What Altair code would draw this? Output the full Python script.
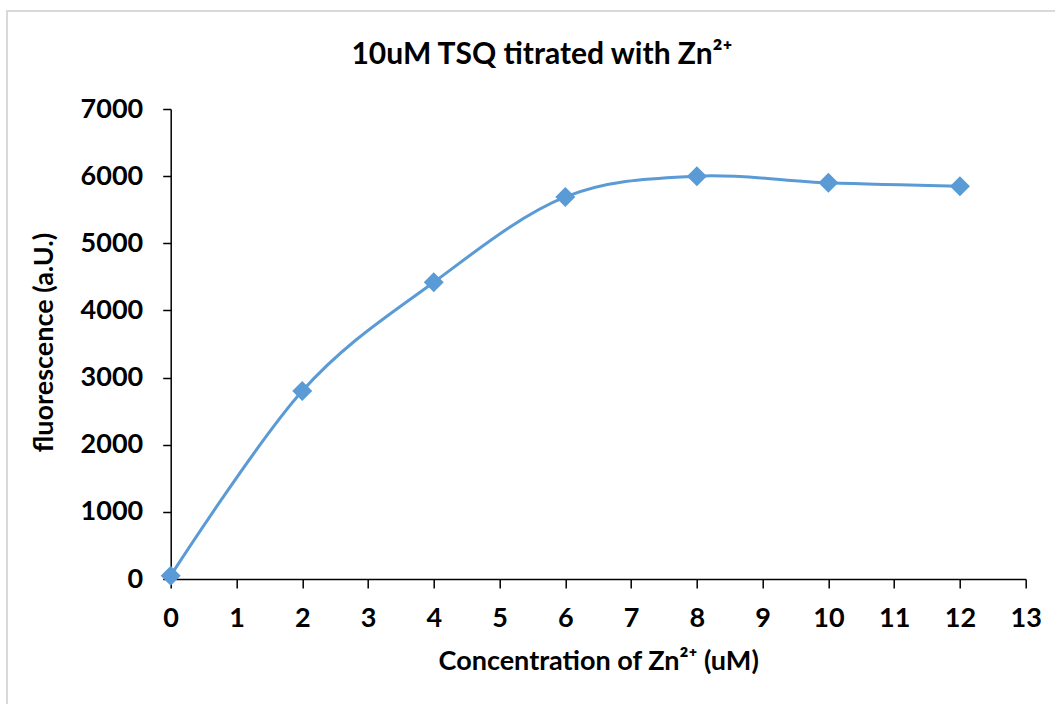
import altair as alt
import pandas as pd

# Zn2+ concentration (uM) and measured TSQ fluorescence (a.U.)
concentration = [0, 2, 4, 6, 8, 10, 12]
fluorescence = [50, 2800, 4420, 5690, 6000, 5900, 5850]

x_ticks = list(range(0, 14))
y_ticks = list(range(0, 7001, 1000))

chart_title = "10uM TSQ titrated with Zn²⁺"

df = pd.DataFrame({"conc": concentration, "fluor": fluorescence})
title_df = pd.DataFrame({"t": [chart_title]})

FONT = "Lato"
FS = 27
BLUE = "#5B9BD5"
PLOT_W, PLOT_H = 855, 470
LEFT, TOP = 170.7, 109

x_enc = alt.X(
    "conc:Q",
    scale=alt.Scale(domain=[0, 13], nice=False, zero=False),
    axis=alt.Axis(
        values=x_ticks,
        format="d",
        title="Concentration of Zn²⁺ (uM)",
        titleX=PLOT_W / 2,
        titleY=82,
        titleBaseline="middle",
        titleAlign="center",
        labelPadding=17,
        tickSize=9,
    ),
)
y_enc = alt.Y(
    "fluor:Q",
    scale=alt.Scale(domain=[0, 7000], nice=False),
    axis=alt.Axis(
        values=y_ticks,
        format="d",
        title="fluorescence (a.U.)",
        titleX=-126,
        titleY=PLOT_H / 2 - 2,
        titleAngle=-90,
        titleBaseline="middle",
        titleAlign="center",
        labelPadding=20,
        tickSize=8,
    ),
)

line = alt.Chart(df).mark_line(
    interpolate="cardinal", color=BLUE, strokeWidth=3
).encode(x=x_enc, y=y_enc)

points = alt.Chart(df).mark_point(
    shape="diamond", size=400, filled=True, color=BLUE, opacity=1, strokeWidth=0
).encode(x="conc:Q", y="fluor:Q")

# thin light-grey frame around the whole figure
frame = alt.Chart(df).mark_rect(
    fill=None, stroke="#D9D9D9", strokeWidth=1.5, clip=False
).encode(
    x=alt.value(7 - LEFT),
    y=alt.value(11 - TOP),
    x2=alt.value(1200 - LEFT),
    y2=alt.value(900 - TOP),
)

# chart title, centred over the whole figure
title = alt.Chart(title_df).mark_text(
    font=FONT, fontSize=30, fontWeight="bold", color="#000000",
    align="center", baseline="middle", clip=False,
).encode(
    text="t:N",
    x=alt.value(542 - LEFT),
    y=alt.value(55 - TOP),
)

chart = (
    alt.layer(frame, line, points, title)
    .properties(
        width=PLOT_W,
        height=PLOT_H,
        autosize=alt.AutoSizeParams(type="none"),
        padding={"left": LEFT, "top": TOP, "right": 1055 - LEFT - PLOT_W, "bottom": 704 - TOP - PLOT_H},
        background="#FFFFFF",
    )
    .configure_view(stroke=None)
    .configure_axis(
        grid=False,
        labelFlush=False,
        labelOverlap=False,
        domainColor="#000000",
        domainWidth=1.5,
        tickColor="#000000",
        tickWidth=1.5,
        labelFont=FONT,
        labelFontSize=FS,
        labelFontWeight="bold",
        labelColor="#000000",
        titleFont=FONT,
        titleFontSize=FS,
        titleFontWeight="bold",
        titleColor="#000000",
    )
)

chart.save("out.html", embed_options={"renderer": "svg", "actions": False})
